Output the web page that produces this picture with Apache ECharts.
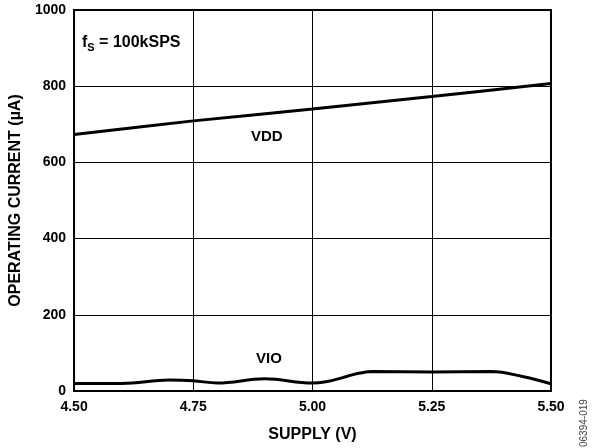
<!DOCTYPE html>
<html><head><meta charset="utf-8">
<script src="https://cdn.jsdelivr.net/npm/echarts@6/dist/echarts.min.js"></script>
<style>html,body{margin:0;padding:0;background:#fff}#c{width:593px;height:448px}</style>
</head><body><div id="c"></div>
<script>
const xTicks = [4.5, 4.75, 5.0, 5.25, 5.5];
const yTicks = [0, 200, 400, 600, 800, 1000];
const vddX = [4.5, 4.75, 5.0, 5.25, 5.5];
const vddY = [673, 709, 740, 773, 807];
const vioX = [4.5, 4.6, 4.7, 4.75, 4.8, 4.9, 5.0, 5.1, 5.125, 5.25, 5.375, 5.44, 5.5];
const vioY = [20, 20, 29, 27, 21, 32, 21, 47, 51, 50, 51, 38, 19];

const F = 'Liberation Sans, Arial, sans-serif';
const chart = echarts.init(document.getElementById('c'));
chart.setOption({
  animation: false,
  grid: {left: 73, right: 42, top: 10, bottom: 56, show: true, borderColor: '#000', borderWidth: 2},
  xAxis: {
    type: 'value', min: 4.5, max: 5.5, interval: 0.25,
    name: 'SUPPLY (V)', nameLocation: 'middle', nameGap: 36,
    nameTextStyle: {fontFamily: F, fontWeight: 'bold', fontSize: 16, color: '#000'},
    axisLine: {show: true, lineStyle: {color: '#000', width: 2}},
    axisTick: {show: false},
    axisLabel: {fontFamily: F, fontWeight: 'bold', fontSize: 14, color: '#000', margin: 9,
      formatter: v => v.toFixed(2)},
    splitLine: {show: true, lineStyle: {color: '#000', width: 1}}
  },
  yAxis: {
    type: 'value', min: 0, max: 1000, interval: 200,
    name: 'OPERATING CURRENT (µA)', nameLocation: 'middle', nameGap: 48,
    nameTextStyle: {fontFamily: F, fontWeight: 'bold', fontSize: 16, color: '#000'},
    axisLine: {show: true, lineStyle: {color: '#000', width: 2}},
    axisTick: {show: false},
    axisLabel: {fontFamily: F, fontWeight: 'bold', fontSize: 14, color: '#000', margin: 8,
      formatter: v => String(v)},
    splitLine: {show: true, lineStyle: {color: '#000', width: 1}}
  },
  series: [
    {type: 'line', data: vddX.map((x, i) => [x, vddY[i]]), showSymbol: false, smooth: 0.3,
     lineStyle: {color: '#000', width: 3}},
    {type: 'line', data: vioX.map((x, i) => [x, vioY[i]]), showSymbol: false, smooth: 0.4,
     lineStyle: {color: '#000', width: 3}}
  ],
  graphic: [
    {type: 'text', left: 82, top: 35, style: {
      text: '{a|f}{b|S}{a| = 100kSPS}',
      rich: {a: {fontFamily: F, fontWeight: 'bold', fontSize: 16, fill: '#000'},
             b: {fontFamily: F, fontWeight: 'bold', fontSize: 11, fill: '#000', padding: [10, 0, 0, 0]}}
    }},
    {type: 'text', left: 251, top: 129, style: {text: 'VDD', fontFamily: F, fontWeight: 'bold', fontSize: 15, fill: '#000'}},
    {type: 'text', left: 256, top: 351, style: {text: 'VIO', fontFamily: F, fontWeight: 'bold', fontSize: 15, fill: '#000'}},
    {type: 'text', x: 579, y: 447, rotation: Math.PI / 2, style: {text: '06394-019', fontFamily: F, fontSize: 10, fill: '#444', textAlign: 'left', textVerticalAlign: 'top'}}
  ]
});
</script></body></html>
